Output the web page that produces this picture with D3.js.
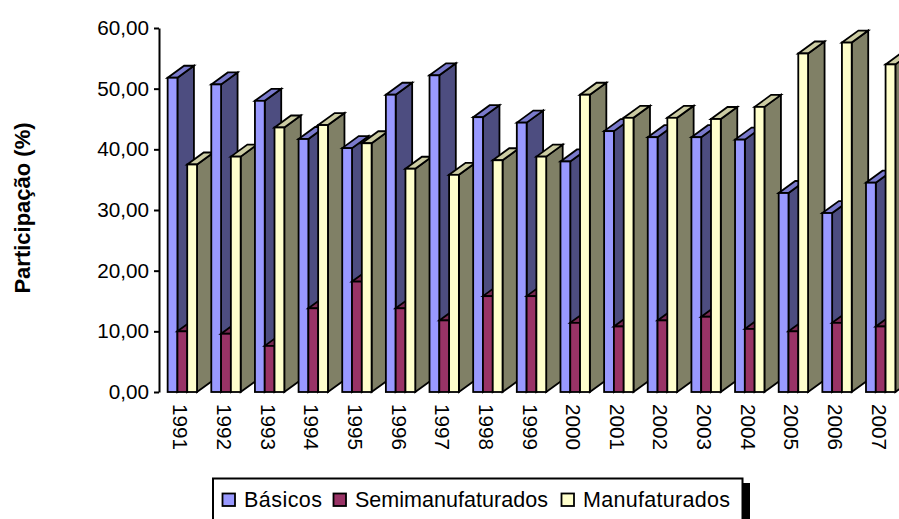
<!DOCTYPE html>
<html>
<head>
<meta charset="utf-8">
<script src="https://cdn.jsdelivr.net/npm/d3@7"></script>
<style>
html, body { margin: 0; padding: 0; background: #fff; overflow: hidden; }
text { font-family: "Liberation Sans", Arial, sans-serif; fill: #000; }
</style>
</head>
<body>
<div id="chart"></div>
<script>
var years = ["1991","1992","1993","1994","1995","1996","1997","1998","1999","2000","2001","2002","2003","2004","2005","2006","2007"];
var seriesNames = ["Básicos","Semimanufaturados","Manufaturados"];
var basicos = [51.8,50.7,48.0,41.7,40.2,49.0,52.2,45.3,44.4,38.0,43.0,42.0,42.0,41.6,32.8,29.5,34.5];
var semi = [10.0,9.6,7.6,13.8,18.2,13.8,11.8,15.8,15.8,11.4,10.8,11.8,12.4,10.4,10.0,11.4,10.8];
var manuf = [37.5,38.8,43.6,44.0,41.0,36.8,35.8,38.2,38.8,49.0,45.2,45.2,45.0,47.0,55.8,57.6,54.0];
var yTicks = [0,10,20,30,40,50,60];

var frontColors = ["#9999ff","#993366","#ffffcc"];
var sideColors = ["#4d4d80","#4d1a33","#808066"];
var topColors = ["#7a7acc","#7a2952","#ccccA3"];

var width = 899, height = 519;
var depthX = 16.5, depthY = 12;

var svg = d3.select("#chart").append("svg")
    .attr("width", width)
    .attr("height", height)
    .style("display", "block");

var x = d3.scaleBand()
    .domain(years)
    .range([160.5, 902.5])
    .paddingInner(0.327)
    .paddingOuter(0.1635);

var xSeries = d3.scaleBand()
    .domain(seriesNames)
    .range([0, x.bandwidth()]);

var y = d3.scaleLinear()
    .domain([0, 60])
    .range([392, 28]);

var values = [basicos, semi, manuf];

function poly(points) {
    return points.map(function(p){ return p.join(","); }).join(" ");
}

// one group per year, drawn left to right so each one covers the previous side face
var groups = svg.selectAll("g.year")
    .data(years)
    .enter()
    .append("g")
    .attr("class", "year");

groups.each(function(year, i) {
    var g = d3.select(this);
    seriesNames.forEach(function(name, s) {
        var x0 = x(year) + xSeries(name);
        var x1 = x0 + xSeries.bandwidth();
        var yTop = y(values[s][i]);
        var yBase = y(0);

        g.append("polygon")
            .attr("points", poly([[x1,yTop],[x1+depthX,yTop-depthY],[x1+depthX,yBase-depthY],[x1,yBase]]))
            .attr("fill", sideColors[s]);
        g.append("polygon")
            .attr("points", poly([[x0,yTop],[x0+depthX,yTop-depthY],[x1+depthX,yTop-depthY],[x1,yTop]]))
            .attr("fill", topColors[s]);
        g.append("rect")
            .attr("x", x0)
            .attr("y", yTop)
            .attr("width", x1 - x0)
            .attr("height", yBase - yTop)
            .attr("fill", frontColors[s]);
    });
});

groups.selectAll("polygon, rect")
    .attr("stroke", "#000")
    .attr("stroke-width", 1.8)
    .attr("stroke-linejoin", "miter");

var yAxis = svg.append("g")
    .attr("transform", "translate(159,0)")
    .call(d3.axisLeft(y)
        .tickValues(yTicks)
        .tickSize(5)
        .tickSizeOuter(0)
        .tickPadding(5)
        .tickFormat(function(d){ return d3.format(".2f")(d).replace(".", ","); }));
yAxis.selectAll("path, line").attr("stroke", "#000").attr("stroke-width", 2);
yAxis.selectAll("text").style("font-size", "20.7px");

var xAxis = svg.append("g")
    .attr("transform", "translate(0,392)")
    .call(d3.axisBottom(x).tickSize(0).tickSizeOuter(0));
xAxis.select(".domain").remove();
xAxis.selectAll("text")
    .style("font-size", "20.7px")
    .attr("text-anchor", "start")
    .attr("dy", null)
    .attr("y", null)
    .attr("transform", "translate(-9,12) rotate(90)");

svg.append("text")
    .attr("transform", "translate(29.5,208) rotate(-90)")
    .attr("text-anchor", "middle")
    .style("font-size", "22px")
    .style("font-weight", "bold")
    .text("Participação (%)");

// legend box with its hard shadow, runs off the bottom of the picture
var legend = svg.append("g");
legend.append("rect")
    .attr("x", 220).attr("y", 483).attr("width", 530).attr("height", 50)
    .attr("fill", "#000");
legend.append("rect")
    .attr("x", 213).attr("y", 478.5).attr("width", 529.5).attr("height", 50)
    .attr("fill", "#fff").attr("stroke", "#000").attr("stroke-width", 2);

var legendX = [222.5, 333.5, 561.5];
var legendTextX = [244, 355, 583];
var legendTextW = [78, 193, 147];
seriesNames.forEach(function(name, s) {
    legend.append("rect")
        .attr("x", legendX[s]).attr("y", 493.5)
        .attr("width", 12.5).attr("height", 12.5)
        .attr("fill", frontColors[s])
        .attr("stroke", "#000").attr("stroke-width", 1.8);
    legend.append("text")
        .attr("x", legendTextX[s]).attr("y", 507)
        .attr("textLength", legendTextW[s])
        .style("font-size", "21.5px")
        .text(name);
});
</script>
</body>
</html>
